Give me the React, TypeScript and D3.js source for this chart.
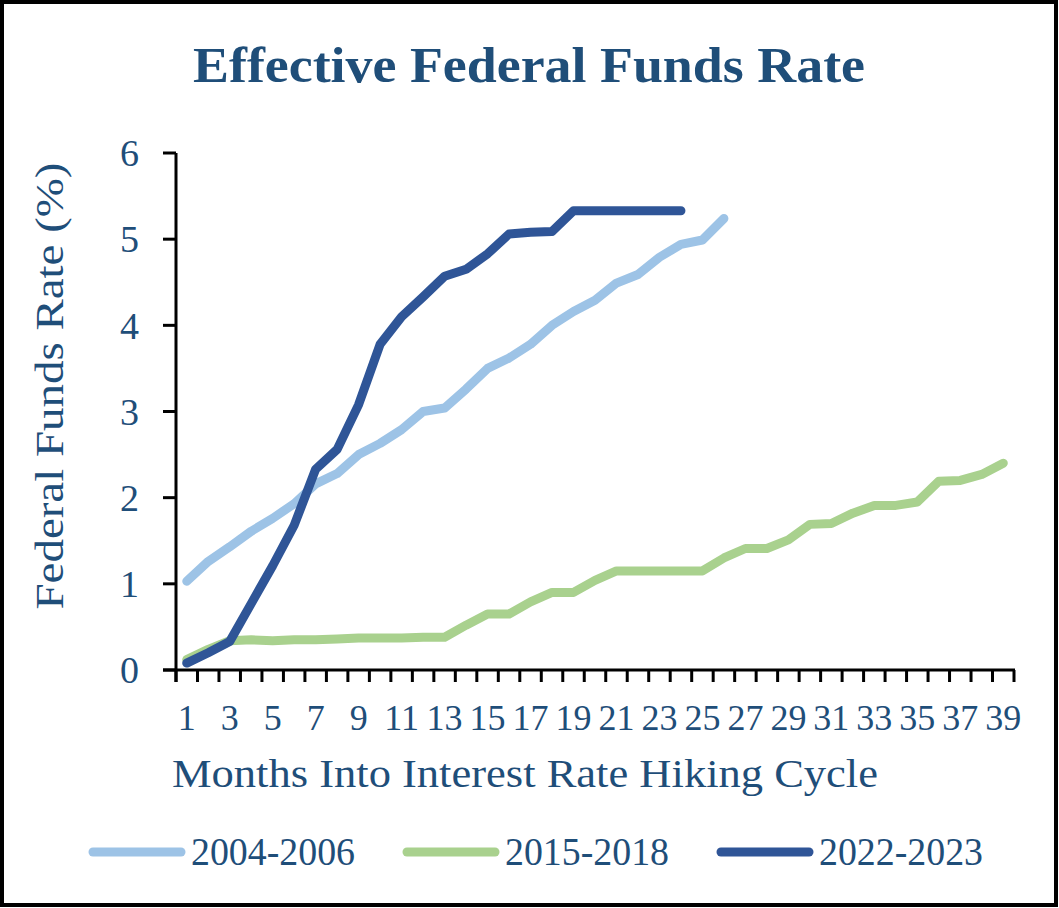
import * as d3 from "d3";

const TITLE = "Effective Federal Funds Rate";
const X_TITLE = "Months Into Interest Rate Hiking Cycle";
const Y_TITLE = "Federal Funds Rate (%)";

const months = d3.range(1, 40);
const yTicks = [0, 1, 2, 3, 4, 5, 6];

// 2004-2006 cycle (Jun 2004 - Jul 2006)
const cycle2004 = [
  1.03, 1.26, 1.43, 1.61, 1.76, 1.93, 2.16, 2.28, 2.5, 2.63, 2.79, 3.0, 3.04,
  3.26, 3.5, 3.62, 3.78, 4.0, 4.16, 4.29, 4.49, 4.59, 4.79, 4.94, 4.99, 5.24,
];
// 2015-2018 cycle (Nov 2015 - Jan 2019)
const cycle2015 = [
  0.12, 0.24, 0.34, 0.35, 0.34, 0.35, 0.35, 0.36, 0.37, 0.37, 0.37, 0.38, 0.38,
  0.52, 0.65, 0.65, 0.79, 0.9, 0.9, 1.04, 1.15, 1.15, 1.15, 1.15, 1.15, 1.3,
  1.41, 1.41, 1.51, 1.69, 1.7, 1.82, 1.91, 1.91, 1.95, 2.19, 2.2, 2.27, 2.4,
];
// 2022-2023 cycle (Feb 2022 - Jan 2024)
const cycle2022 = [
  0.08, 0.2, 0.33, 0.77, 1.21, 1.68, 2.33, 2.56, 3.08, 3.78, 4.1, 4.33, 4.57,
  4.65, 4.83, 5.06, 5.08, 5.09, 5.33, 5.33, 5.33, 5.33, 5.33, 5.33,
];

const seriesNames = ["2004-2006", "2015-2018", "2022-2023"];
const seriesColors = ["#9DC3E6", "#A9D18E", "#2F5597"];
const seriesValues = [cycle2004, cycle2015, cycle2022];

const W = 1059;
const H = 908;
const FONT = "'Liberation Serif', 'Times New Roman', serif";
const TEXT = "#1F4E79";

export default function App() {
  const x = d3
    .scaleBand<number>()
    .domain(months)
    .range([176, 1014])
    .padding(0);
  const y = d3.scaleLinear().domain([0, 6]).range([670, 153]);
  const bw = x.bandwidth();
  const cx = (m: number) => (x(m) ?? 0) + bw / 2;

  const line = d3
    .line<number>()
    .x((_, i) => cx(months[i]))
    .y((v) => y(v));

  const boundaries = d3.range(0, months.length + 1).map((k) => 176 + k * bw);

  // legend layout: [line start, line end, text start]
  const legendPos = [
    [93, 181, 191],
    [407, 495, 505],
    [721, 809, 819],
  ];

  return (
    <svg
      width={W}
      height={H}
      style={{ position: "absolute", left: 0, top: 0, background: "#fff" }}
      fontFamily={FONT}
    >
      <rect x={0} y={0} width={W} height={H} fill="#fff" />
      <rect x={2} y={2} width={W - 5} height={H - 5} fill="none" stroke="#000" strokeWidth={4} />

      <text
        x={529}
        y={82}
        textAnchor="middle"
        fontSize={50}
        fontWeight="bold"
        fill={TEXT}
        textLength={672}
        lengthAdjust="spacingAndGlyphs"
      >
        {TITLE}
      </text>

      {/* y axis */}
      <line x1={176} x2={176} y1={y(6)} y2={682} stroke="#000" strokeWidth={3} />
      {yTicks.map((t) => (
        <g key={t}>
          <line x1={163} x2={176} y1={y(t)} y2={y(t)} stroke="#000" strokeWidth={3} />
          <text x={139} y={y(t)} dy="0.35em" textAnchor="end" fontSize={38} fill={TEXT}>
            {t}
          </text>
        </g>
      ))}

      {/* x axis */}
      <line x1={163} x2={1015} y1={670} y2={670} stroke="#000" strokeWidth={3} />
      {boundaries.map((bx, i) => (
        <line key={i} x1={bx} x2={bx} y1={670} y2={682} stroke="#000" strokeWidth={3} />
      ))}
      {months
        .filter((m) => m % 2 === 1)
        .map((m) => (
          <text key={m} x={cx(m)} y={730} textAnchor="middle" fontSize={36} fill={TEXT}>
            {m}
          </text>
        ))}

      <text
        x={525}
        y={787}
        textAnchor="middle"
        fontSize={40}
        fill={TEXT}
        textLength={706}
        lengthAdjust="spacingAndGlyphs"
      >
        {X_TITLE}
      </text>
      <text
        transform={`translate(63,386) rotate(-90)`}
        textAnchor="middle"
        fontSize={40}
        fill={TEXT}
        textLength={447}
        lengthAdjust="spacingAndGlyphs"
      >
        {Y_TITLE}
      </text>

      {/* series */}
      {seriesValues.map((vals, i) => (
        <path
          key={seriesNames[i]}
          d={line(vals) ?? ""}
          fill="none"
          stroke={seriesColors[i]}
          strokeWidth={9}
          strokeLinecap="round"
          strokeLinejoin="round"
        />
      ))}

      {/* legend */}
      {seriesNames.map((name, i) => (
        <g key={name}>
          <line
            x1={legendPos[i][0]}
            x2={legendPos[i][1]}
            y1={852}
            y2={852}
            stroke={seriesColors[i]}
            strokeWidth={9}
            strokeLinecap="round"
          />
          <text
            x={legendPos[i][2]}
            y={865}
            fontSize={40}
            fill={TEXT}
            textLength={164}
            lengthAdjust="spacingAndGlyphs"
          >
            {name}
          </text>
        </g>
      ))}
    </svg>
  );
}
